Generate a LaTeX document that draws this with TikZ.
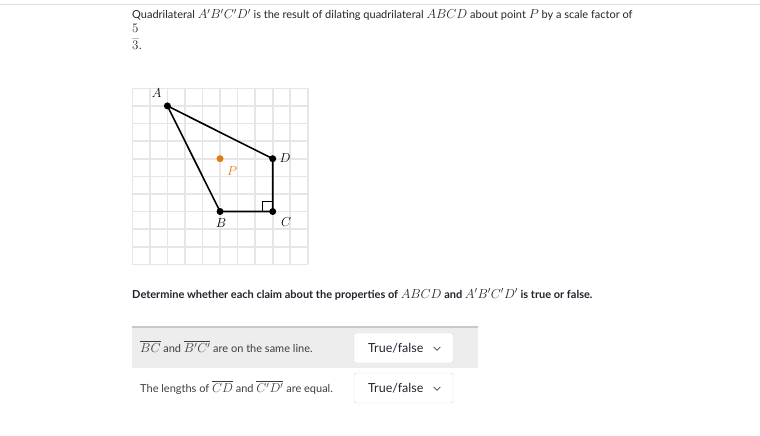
\documentclass[tikz,border=0pt]{standalone}
\usepackage{fix-cm}
\usepackage[no-math]{fontspec}
\setmainfont{Lato}
\usepackage{amsmath}
\usetikzlibrary{positioning}

\definecolor{inktext}{HTML}{21242C}
\definecolor{rowtext}{HTML}{3B3E40}
\definecolor{gridgray}{HTML}{E6E6E6}
\definecolor{dilorange}{HTML}{E07D10}
\definecolor{bandgray}{HTML}{EDEDED}
\definecolor{rulegray}{HTML}{C8C8C8}
\definecolor{boxgray}{HTML}{D8D8D8}

\newcommand{\km}[1]{{\fontsize{13}{15}\selectfont$#1$}}

\tikzset{
	prompt/.style={anchor=base west, inner sep=0pt, text=inktext, font=\fontsize{11}{13}\selectfont},
	claim/.style={anchor=base west, inner sep=0pt, text=rowtext, font=\fontsize{11}{13}\selectfont},
	gridline/.style={gridgray, line width=1.6pt},
	dot/.style={circle, fill=black, inner sep=0pt, minimum size=7pt},
	ptlabel/.style={inner sep=0pt, font=\fontsize{13}{15}\selectfont},
	dropbox/.style={draw=boxgray, fill=white, rounded corners=2pt, minimum width=99pt, minimum height=30pt, inner sep=0pt},
	choice/.style={anchor=base west, inner sep=0pt, text=inktext, font=\fontsize{12.5}{14}\selectfont},
	chevron/.style={draw=rowtext!80, line width=0.8pt},
}

\begin{document}
\begin{tikzpicture}[x=1pt, y=-1pt]
	\useasboundingbox (0,0) rectangle (760,436);
	\draw[black!12] (0,4.5) -- (760,4.5);

	% question text
	\node[prompt] (title) at (132,19) {Quadrilateral \km{A'B'C'D'} is the result of dilating quadrilateral \km{ABCD} about point \km{P} by a scale factor of};
	\node[prompt] (five) at (132,32.5) {\km{5}};
	\node[prompt] (three) at (132,49.5) {\km{3}\kern0.5pt.};
	\draw[inktext!30, line width=0.4pt] (132.3,38) -- (139.3,38);

	% grid and figure
	\begin{scope}[shift={(132.3,88.3)}, x=17.55pt, y=-17.6pt]
		\foreach \i in {0,...,10} {
			\draw[gridline] (\i,0) -- (\i,10);
			\draw[gridline] (0,\i) -- (10,\i);
		}
		\node[dot] (A) at (2,1) {};
		\node[dot] (B) at (5,7) {};
		\node[dot] (C) at (8,7) {};
		\node[dot] (D) at (8,4) {};
		\node[dot, fill=dilorange] (P) at (5,4) {};
		\draw[line width=1.6pt, line join=round] (A.center) -- (B.center) -- (C.center) -- (D.center) -- cycle;
		\draw[line width=0.6pt] (7.4,7) -- (7.4,6.4) -- (8,6.4);
		\node[ptlabel] (labA) at (1.38,0.27) {$A$};
		\node[ptlabel] (labB) at (5.05,7.68) {$B$};
		\node[ptlabel] (labC) at (8.76,7.62) {$C$};
		\node[ptlabel] (labD) at (8.7,3.97) {$D$};
		\node[ptlabel, text=dilorange] (labP) at (5.68,4.71) {$P$};
	\end{scope}

	\node[prompt, font=\bfseries\fontsize{11}{13}\selectfont] (ask) at (132,298) {Determine whether each claim about the properties of \km{ABCD} and \km{A'B'C'D'} is true or false.};

	% claims
	\fill[bandgray] (132,327) rectangle (478,368);
	\draw[rulegray, line width=2pt] (132,327) -- (478,327);
	\node[claim] (claim1) at (140,352) {\km{\overline{BC}} and \km{\overline{B'C'}} are on the same line.};
	\node[claim] (claim2) at (140,392) {The lengths of \km{\overline{CD}} and \km{\overline{C'D'}} are equal.};

	\node[dropbox] (dd1) at (403.5,348) {};
	\node[dropbox] (dd2) at (403.5,388) {};
	\node[choice] (tf1) at (368,352.7) {True/false};
	\node[choice] (tf2) at (368,392.7) {True/false};
	\draw[chevron] ([xshift=-19.5pt,yshift=1pt]dd1.east) -- ++(3.3,3.3) -- ++(3.3,-3.3);
	\draw[chevron] ([xshift=-19.5pt,yshift=1pt]dd2.east) -- ++(3.3,3.3) -- ++(3.3,-3.3);
\end{tikzpicture}
\end{document}
